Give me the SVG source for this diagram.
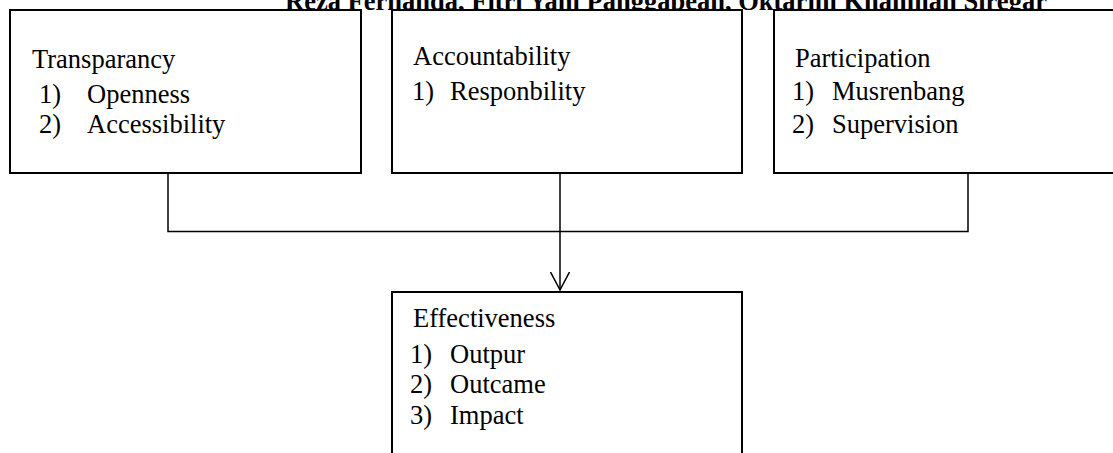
<svg xmlns="http://www.w3.org/2000/svg" width="1113" height="453" viewBox="0 0 1113 453">
  <style>
    .box { fill: #ffffff; stroke: #000000; stroke-width: 2; }
    .conn { fill: none; stroke: #000000; stroke-width: 1.5; }
    .t { font-family: "Liberation Serif", "Times New Roman", serif; font-size: 26.5px; fill: #000000; }
    .title { font-family: "Liberation Serif", "Times New Roman", serif; font-size: 26.5px; font-weight: bold; fill: #000000; }
  </style>
  <defs>
    <marker id="arrow" viewBox="0 0 20 20" refX="18" refY="10" markerWidth="20" markerHeight="20" markerUnits="userSpaceOnUse" orient="auto">
      <path d="M0,0.5 L18,10 L0,19.5" fill="none" stroke="#000000" stroke-width="1.5"/>
    </marker>
  </defs>
  <rect width="1113" height="453" fill="#ffffff"/>
  <text class="title" x="285" y="9.5">Reza Fernanda, Fitri Yani Panggabean, Oktarini Khamilah Siregar</text>

  <g id="connectors">
    <path class="conn" d="M168,173 V231.5 H968 V173"/>
    <path class="conn" d="M560,173 V290" marker-end="url(#arrow)"/>
  </g>

  <g id="transparancy">
    <rect class="box" x="10" y="10" width="351" height="163"/>
    <text class="t" x="32" y="68">Transparancy</text>
    <text class="t" x="39" y="103">1)</text>
    <text class="t" x="87" y="103">Openness</text>
    <text class="t" x="39" y="133">2)</text>
    <text class="t" x="87" y="133">Accessibility</text>
  </g>

  <g id="accountability">
    <rect class="box" x="392" y="10" width="350" height="163"/>
    <text class="t" x="413" y="65">Accountability</text>
    <text class="t" x="412" y="100">1)</text>
    <text class="t" x="450" y="100">Responbility</text>
  </g>

  <g id="participation">
    <rect class="box" x="774" y="10" width="360" height="163"/>
    <text class="t" x="795" y="67">Participation</text>
    <text class="t" x="792" y="100">1)</text>
    <text class="t" x="832" y="100">Musrenbang</text>
    <text class="t" x="792" y="133">2)</text>
    <text class="t" x="832" y="133">Supervision</text>
  </g>

  <g id="effectiveness">
    <rect class="box" x="392" y="292" width="350" height="180"/>
    <text class="t" x="413" y="327">Effectiveness</text>
    <text class="t" x="410" y="363">1)</text>
    <text class="t" x="450" y="363">Outpur</text>
    <text class="t" x="410" y="393">2)</text>
    <text class="t" x="450" y="393">Outcame</text>
    <text class="t" x="410" y="424">3)</text>
    <text class="t" x="450" y="424">Impact</text>
  </g>
</svg>
